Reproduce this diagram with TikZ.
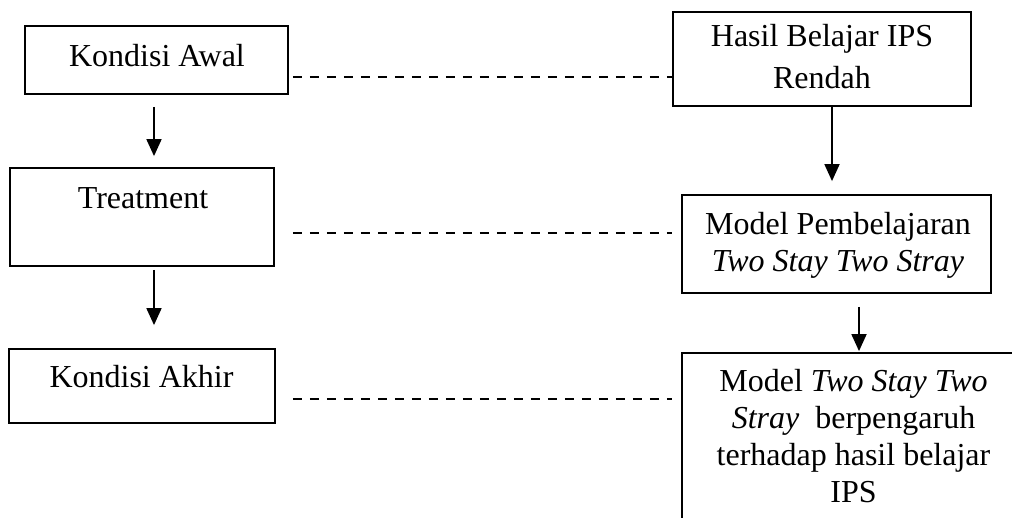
\documentclass[tikz,border=0pt]{standalone}
\usepackage{fontspec}
\setmainfont{Liberation Serif}
\usetikzlibrary{arrows.meta}
\begin{document}
\begin{tikzpicture}[x=1pt,y=-1pt,
  box/.style={draw, line width=1.8pt, rectangle, inner sep=0pt},
  lbl/.style={inner sep=0pt, anchor=base, align=center, font=\fontsize{32}{37}\selectfont},
  arr/.style={line width=1.8pt, -{Triangle[width=15pt,length=17pt]}},
  dsh/.style={line width=1.5pt, dash pattern=on 9pt off 8pt}]
\useasboundingbox (0,0) rectangle (1012,518);
\clip (0,0) rectangle (1012,518);
% left column
\node[box, minimum width=263pt, minimum height=68pt] (ka) at (156.5,60) {};
\node[lbl] (kat) at (157,67) {Kondisi Awal};
\node[box, minimum width=264pt, minimum height=98pt] (tr) at (142,217) {};
\node[lbl] (trt) at (143,209) {Treatment};
\node[box, minimum width=266pt, minimum height=74pt] (kak) at (142,386) {};
\node[lbl] (kakt) at (141.5,388) {Kondisi Akhir};
% right column
\node[box, minimum width=298pt, minimum height=94pt] (hb) at (822,59) {};
\node[lbl] (hbt) at (822,89) {Hasil Belajar IPS\\[5pt]Rendah};
\node[box, minimum width=309pt, minimum height=98pt] (mp) at (836.5,244) {};
\node[lbl] (mpt) at (838,272) {Model Pembelajaran\\\textit{Two Stay Two Stray}};
\node[box, minimum width=343pt, minimum height=182pt] (fin) at (853.5,444) {};
\node[lbl] (fint) at (853.5,502) {Model \textit{Two Stay Two}\\\textit{Stray}\ \ berpengaruh\\terhadap hasil belajar\\IPS};
% arrows
\draw[arr, shorten <=12pt, shorten >=11pt] ([xshift=-2.5pt]ka.south) -- ([xshift=-2.5pt]ka.south |- tr.north);
\draw[arr, shorten <=3pt, shorten >=23pt] ([xshift=12pt]tr.south) -- ([xshift=12pt]tr.south |- kak.north);
\draw[arr, shorten >=13pt] ([xshift=10pt]hb.south) -- ([xshift=10pt]hb.south |- mp.north);
\draw[arr, shorten <=13pt, shorten >=1pt] ([xshift=22.5pt]mp.south) -- ([xshift=22.5pt]mp.south |- fin.north);
% dashed links
\draw[dsh, shorten <=4pt] ([yshift=-17pt]ka.east) -- ([yshift=-17pt]ka.east -| hb.west);
\draw[dsh, shorten <=18pt, shorten >=9pt] ([yshift=-16pt]tr.east) -- ([yshift=-16pt]tr.east -| mp.west);
\draw[dsh, shorten <=17pt, shorten >=9pt] ([yshift=-13pt]kak.east) -- ([yshift=-13pt]kak.east -| fin.west);
\end{tikzpicture}
\end{document}
